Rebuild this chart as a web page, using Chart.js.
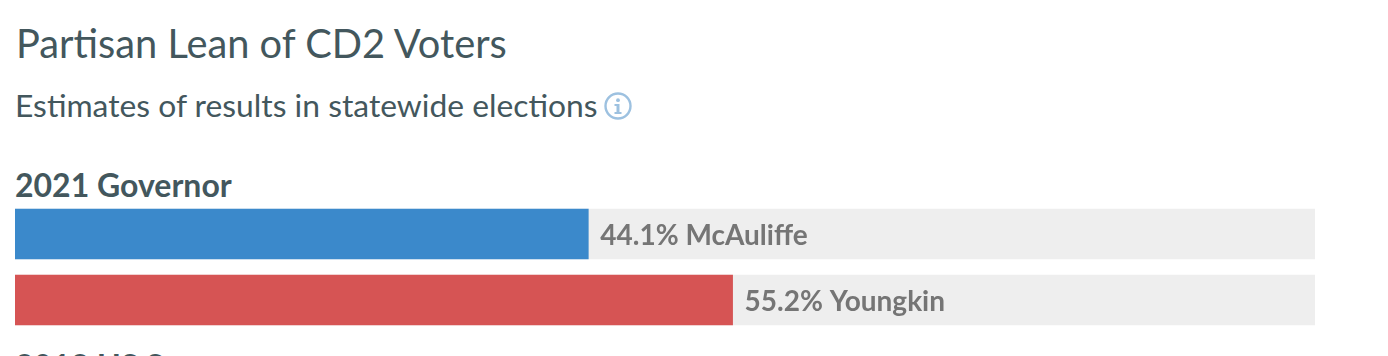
<!DOCTYPE html>
<html>
<head>
<meta charset="utf-8">
<script src="https://cdn.jsdelivr.net/npm/chart.js@4/dist/chart.umd.min.js"></script>
<style>
html,body{margin:0;padding:0;background:#fff;width:1388px;height:356px;overflow:hidden;font-family:Lato,sans-serif;color:#43575d}
.t{position:absolute;white-space:nowrap;line-height:1}
#title{top:23px;font-size:39.8px;font-weight:400;left:16px}
#sub{top:90px;font-size:31.8px;left:15px}
.h{font-size:32px;font-weight:700;left:15px}
#h1{top:169px}
#h2{top:350px}
#wrap{position:absolute;left:15px;top:201px;width:1300px;height:132px}
svg{position:absolute;left:604px;top:92px}
</style>
</head>
<body>
<div class="t" id="title">Partisan Lean of CD2 Voters</div>
<div class="t" id="sub">Estimates of results in statewide elections</div>
<svg width="28" height="28" viewBox="0 0 28 28"><circle cx="14" cy="14" r="12.5" fill="none" stroke="#9dc1e0" stroke-width="2.4"/><circle cx="14" cy="8.2" r="1.9" fill="#9dc1e0"/><path d="M10.5 12h5v8h2v2h-7v-2h2v-6h-2z" fill="#9dc1e0"/></svg>
<div class="t h" id="h1">2021 Governor</div>
<div class="t h" id="h2">2018 US Senate</div>
<div id="wrap"><canvas id="c"></canvas></div>
<script>
const categories = ["McAuliffe", "Youngkin"];
const shares = [44.1, 55.2];
const track = [100, 100];
const barColors = ["#3b89cb", "#d65454"];

const labelPlugin = {
  id: "valueLabels",
  afterDatasetsDraw(chart) {
    const ctx = chart.ctx;
    const meta = chart.getDatasetMeta(0);
    ctx.save();
    ctx.font = "700 28px Lato";
    ctx.fillStyle = "#757575";
    ctx.textBaseline = "middle";
    ctx.textAlign = "left";
    meta.data.forEach((bar, i) => {
      ctx.fillText(shares[i].toFixed(1) + "% " + categories[i], bar.x + 12, bar.y + 2);
    });
    ctx.restore();
  }
};

new Chart(document.getElementById("c"), {
  type: "bar",
  data: {
    labels: categories,
    datasets: [
      { data: shares, backgroundColor: barColors, barThickness: 50, grouped: false, order: 0 },
      { data: track, backgroundColor: "#eeeeee", barThickness: 50, grouped: false, order: 1 }
    ]
  },
  options: {
    indexAxis: "y",
    responsive: true,
    maintainAspectRatio: false,
    animation: false,
    layout: { padding: 0 },
    plugins: { legend: { display: false }, tooltip: { enabled: false }, title: { display: false } },
    scales: {
      x: { display: false, min: 0, max: 100 },
      y: { display: false }
    }
  },
  plugins: [labelPlugin]
});
</script>
</body>
</html>
